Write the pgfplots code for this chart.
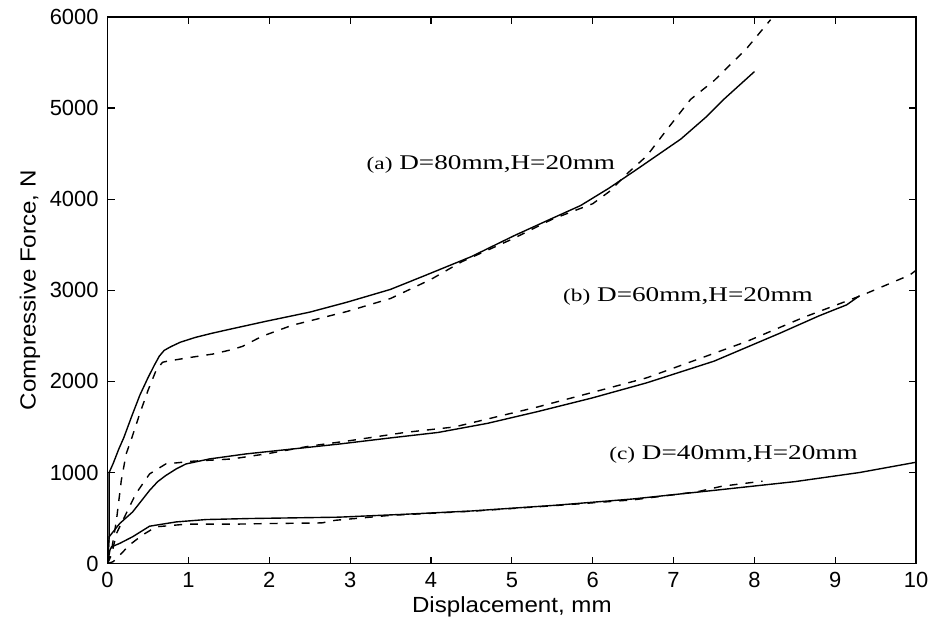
\documentclass[border=0pt]{standalone}
\usepackage{fontspec}
\setmainfont{Liberation Sans}
\newfontfamily\labfont[FakeStretch=1.1]{Liberation Sans}
\newfontfamily\annfont[FakeStretch=1.3]{Liberation Serif}
\usepackage{pgfplots}
\pgfplotsset{compat=1.18}

\begin{document}
\begin{tikzpicture}
\begin{axis}[
  scale only axis,
  width=406pt, height=274.5pt,
  xmin=0, xmax=10, ymin=0, ymax=6000,
  xtick={0,1,...,10},
  ytick={0,1000,...,6000},
  tick align=inside,
  major tick length=3.5pt,
  axis line style={line width=0.8pt},
  every tick/.style={black, line width=0.6pt},
  /pgf/number format/assume math mode=true,
  /pgf/number format/set thousands separator={},
  scaled y ticks=false,
  tick label style={font=\fontsize{11}{13}\selectfont},
  xticklabel style={yshift=-1pt},
  yticklabel style={xshift=-1pt},
  xlabel={Displacement, mm},
  ylabel={Compressive Force, N},
  label style={font=\labfont\fontsize{11}{13}\selectfont},
  xlabel style={yshift=2.5pt},
  ylabel style={yshift=-2pt},
  clip=true,
  solid curve/.style={black, line width=0.7pt},
  test curve/.style={black, line width=0.7pt, dash pattern=on 4pt off 4pt},
]

% (a) D=80mm, H=20mm
\addplot[solid curve] coordinates {
  (0,0) (0.02,300) (0.02,1000) (0.07,1100) (0.14,1260) (0.2,1380) (0.3,1620)
  (0.4,1850) (0.5,2040) (0.58,2180) (0.64,2277) (0.7,2340) (0.78,2380)
  (0.9,2430) (1.09,2484) (1.3,2530) (1.5,2570) (1.95,2658) (2.5,2760)
  (2.96,2869) (3.5,3010) (3.92,3160) (4.5,3370) (5.03,3600) (5.5,3790)
  (5.85,3930) (6.2,4120) (6.55,4330) (7.09,4660) (7.4,4900) (7.62,5095) (8.0,5400)
};
\addplot[test curve] coordinates {
  (0,0) (0.05,150) (0.11,476) (0.17,913) (0.23,1204) (0.3,1380) (0.4,1650)
  (0.5,1900) (0.6,2120) (0.68,2210) (0.74,2222) (1.0,2260) (1.3,2300)
  (1.54,2349) (1.67,2385) (1.91,2495) (2.28,2615) (2.96,2767) (3.5,2910)
  (4.0,3120) (4.38,3313) (5.0,3560) (5.5,3780) (6.0,3950) (6.2,4080)
  (6.45,4300) (6.67,4476) (6.92,4767) (7.21,5095) (7.5,5300) (7.9,5650) (8.2,5970)
};

% (b) D=60mm, H=20mm
\addplot[solid curve] coordinates {
  (0,0) (0.01,150) (0.02,295) (0.15,440) (0.31,567) (0.52,804) (0.62,900)
  (0.72,967) (0.85,1040) (0.97,1094) (1.26,1149) (1.71,1204) (2.2,1250)
  (2.86,1312) (3.5,1380) (4.09,1440) (4.7,1540) (5.32,1669) (6.0,1820)
  (6.67,1985) (7.5,2222) (8.32,2531) (8.8,2720) (9.14,2840) (9.3,2940)
};
\addplot[test curve] coordinates {
  (0,0) (0.05,100) (0.11,331) (0.23,549) (0.35,767) (0.52,985) (0.72,1094)
  (1.05,1124) (1.54,1149) (2.0,1210) (2.5,1290) (3.0,1350) (3.68,1440)
  (4.29,1500) (5.32,1720) (6.0,1880) (6.67,2040) (7.91,2440) (8.6,2700)
  (9.34,2949) (9.92,3167) (10,3220)
};

% (c) D=40mm, H=20mm
\addplot[solid curve] coordinates {
  (0,0) (0.03,150) (0.05,185) (0.15,222) (0.31,295) (0.52,411) (0.85,458)
  (1.22,484) (1.75,495) (2.86,510) (3.68,542) (4.5,578) (5.53,640)
  (6.5,710) (7.5,804) (8.5,900) (9.3,1000) (10,1113)
};
\addplot[test curve] coordinates {
  (0,0) (0.07,22) (0.17,110) (0.27,204) (0.43,313) (0.6,404) (0.97,433)
  (1.54,433) (2.0,440) (2.65,447) (2.82,476) (3.5,530) (4.5,575)
  (5.5,635) (6.5,700) (7.3,790) (7.6,850) (8.1,905)
};

\node[anchor=west, inner sep=0pt, font=\annfont\fontsize{10.5}{12}\selectfont]
  at (axis cs:3.2,4385) {{\fontsize{9}{10}\selectfont (a)} D=80mm,H=20mm};
\node[anchor=west, inner sep=0pt, font=\annfont\fontsize{10.5}{12}\selectfont]
  at (axis cs:5.63,2935) {{\fontsize{9}{10}\selectfont (b)} D=60mm,H=20mm};
\node[anchor=west, inner sep=0pt, font=\annfont\fontsize{10.5}{12}\selectfont]
  at (axis cs:6.2,1203) {{\fontsize{9}{10}\selectfont (c)} D=40mm,H=20mm};
\end{axis}
\path (current axis.south west) ++(-54pt,-32pt) coordinate (bbsw);
\path (current axis.north east) ++(7.5pt,8.5pt) coordinate (bbne);
\path[use as bounding box] (bbsw) rectangle (bbne);
\end{tikzpicture}
\end{document}
